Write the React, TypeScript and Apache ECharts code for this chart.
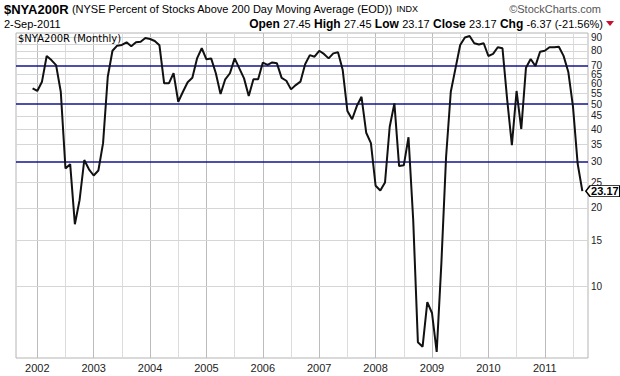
import React, { useEffect, useRef } from "react";
import * as echarts from "echarts";

// Monthly closes of $NYA200R, first point = Dec 2001 (month index -1 relative to Jan 2002)
const startMonth = -1;
const v2001 = [57.4];
const v2002 = [56.1, 60.9, 76.4, 73.7, 70.5, 55.7, 28.3, 29.4, 17.3, 21.4, 30.5, 28.1];
const v2003 = [26.6, 27.8, 35.4, 63.6, 80.0, 83.7, 84.2, 86.2, 83.3, 86.2, 86.7, 89.5];
const v2004 = [88.8, 87.2, 84.0, 60.0, 60.0, 65.6, 51.0, 55.7, 60.6, 63.0, 74.8, 81.8];
const v2005 = [74.2, 74.8, 65.6, 54.6, 62.2, 65.6, 74.8, 68.5, 62.7, 53.7, 62.2, 62.2];
const v2006 = [72.1, 70.7, 72.2, 71.6, 63.0, 61.4, 56.9, 59.1, 60.9, 71.0, 77.0, 75.9];
const v2007 = [80.0, 77.8, 74.8, 78.2, 78.9, 67.5, 47.0, 43.7, 49.1, 53.3, 38.8, 35.4];
const v2008 = [24.3, 23.3, 25.0, 40.9, 50.3, 28.9, 29.1, 37.3, 18.0, 6.1, 5.87, 8.7];
const v2009 = [7.9, 5.6, 12.3, 31.4, 55.7, 68.5, 84.2, 90.0, 91.1, 85.5, 84.5, 85.5];
const v2010 = [76.4, 77.8, 82.5, 81.8, 52.0, 34.8, 56.1, 40.1, 68.9, 74.4, 69.9, 79.3];
const v2011 = [80.0, 82.5, 82.5, 82.9, 76.5, 66.5, 49.0, 29.5, 23.17];

const values = [
  ...v2001, ...v2002, ...v2003, ...v2004, ...v2005, ...v2006,
  ...v2007, ...v2008, ...v2009, ...v2010, ...v2011,
];

const yearLabels = ["2002", "2003", "2004", "2005", "2006", "2007", "2008", "2009", "2010", "2011"];
const yearMonths = [0, 12, 24, 36, 48, 60, 72, 84, 96, 108];
const gridMonths = [0, 6, 12, 18, 24, 30, 36, 42, 48, 54, 60, 66, 72, 78, 84, 90, 96, 102, 108, 114];

const gridLevels = [10, 15, 20, 25, 35, 40, 45, 55, 60, 65, 75, 80, 85, 90];
const labeledLevels = [10, 15, 20, 25, 30, 35, 40, 45, 50, 55, 60, 65, 70, 80, 90];
const signalLevels = [30, 50, 70];

const FONT = '"Liberation Sans", Arial, sans-serif';

export default function App() {
  const ref = useRef<HTMLDivElement>(null);

  useEffect(() => {
    const chart = echarts.init(ref.current!, null, { renderer: "svg" });
    const data = values.map((v, i) => [startMonth + i, v]);
    const lastIdx = startMonth + values.length - 1;
    const lastVal = values[values.length - 1];

    const markLineData: any[] = [
      ...gridLevels.map((v) => ({
        yAxis: v,
        lineStyle: { color: "#d6d6d6", width: 1, type: "solid" },
        label: { show: labeledLevels.includes(v) },
      })),
      ...signalLevels.map((v) => ({
        yAxis: v,
        lineStyle: { color: "#14148c", width: 1.5, type: "solid" },
        label: { show: true },
      })),
    ];

    chart.setOption({
      animation: false,
      backgroundColor: "#ffffff",
      textStyle: { fontFamily: FONT },
      grid: {
        left: 16,
        right: 32,
        top: 33,
        bottom: 18,
        show: true,
        borderColor: "#b4b4b4",
        borderWidth: 1,
        backgroundColor: "#ffffff",
      },
      xAxis: {
        type: "value",
        min: -4.53,
        max: 117.2,
        axisLine: { show: false },
        axisTick: { show: false, customValues: gridMonths },
        axisLabel: {
          customValues: yearMonths,
          formatter: (v: number) => yearLabels[Math.round(v / 12)] ?? "",
          fontSize: 11,
          color: "#222",
          margin: 4,
          fontFamily: FONT,
        },
        splitLine: { show: true, lineStyle: { color: ["#bcbcbc", "#dcdcdc"], width: 1 } },
      },
      yAxis: {
        type: "log",
        logBase: 10,
        min: 5.31,
        max: 93.6,
        position: "right",
        axisLine: { show: false },
        axisTick: { show: false },
        axisLabel: { show: false },
        splitLine: { show: false },
        minorTick: { show: false },
        minorSplitLine: { show: false },
      },
      series: [
        {
          type: "line",
          data,
          z: 3,
          symbol: "none",
          lineStyle: { color: "#111111", width: 2 },
          markLine: {
            z: 1,
            silent: true,
            symbol: ["none", "none"],
            label: {
              position: "end",
              distance: 3,
              formatter: (p: any) => String(p.value),
              fontSize: 10,
              color: "#222",
              fontFamily: FONT,
            },
            data: markLineData,
          },
          markPoint: {
            silent: true,
            symbol: "path://M0,5L5,0L40,0L40,10L5,10Z",
            symbolSize: [34, 11],
            symbolKeepAspect: false,
            symbolOffset: [20.5, 0],
            itemStyle: { color: "#ffffff", borderColor: "#000000", borderWidth: 1 },
            label: {
              show: true,
              position: "inside",
              offset: [2, 0],
              formatter: () => lastVal.toFixed(2),
              fontWeight: "bold",
              fontSize: 11,
              color: "#000",
              fontFamily: FONT,
            },
            data: [{ coord: [lastIdx, lastVal], value: lastVal }],
          },
        },
      ],
      graphic: [
        {
          type: "text",
          x: 4,
          y: 9,
          style: {
            text:
              "{a|$NYA200R} {b|(NYSE Percent of Stocks Above 200 Day Moving Average (EOD))} {c|INDX}",
            verticalAlign: "middle",
            align: "left",
            rich: {
              a: { fontSize: 13, fontWeight: "bold", fontFamily: FONT, fill: "#000" },
              b: { fontSize: 11, fontFamily: FONT, fill: "#000" },
              c: { fontSize: 9, fontFamily: FONT, fill: "#000" },
            },
          },
        },
        {
          type: "text",
          x: 601,
          y: 9,
          style: {
            text: "©StockCharts.com",
            font: `11px ${FONT}`,
            fill: "#555",
            align: "right",
            verticalAlign: "middle",
          },
        },
        {
          type: "text",
          x: 4,
          y: 24,
          style: {
            text: "2-Sep-2011",
            font: `11px ${FONT}`,
            fill: "#000",
            align: "left",
            verticalAlign: "middle",
          },
        },
        {
          type: "text",
          x: 603,
          y: 24,
          style: {
            text:
              "{l|Open} {v|27.45} {l|High} {v|27.45} {l|Low} {v|23.17} {l|Close} {v|23.17} {l|Chg} {v|-6.37 (-21.56%)}",
            align: "right",
            verticalAlign: "middle",
            rich: {
              l: { fontSize: 12, fontWeight: "bold", fontFamily: FONT, fill: "#000" },
              v: { fontSize: 11, fontFamily: FONT, fill: "#000" },
            },
          },
        },
        {
          type: "polygon",
          shape: { points: [[606, 21], [614, 21], [610, 26]] },
          style: { fill: "#c8102e" },
        },
        {
          type: "text",
          x: 18,
          y: 38,
          z: 10,
          style: {
            text: "$NYA200R (Monthly)",
            font: '10px "DejaVu Sans", Verdana, sans-serif',
            fill: "#000",
            align: "left",
            verticalAlign: "middle",
          },
        },
      ],
    });
    return () => chart.dispose();
  }, []);

  return (
    <div
      ref={ref}
      style={{ position: "fixed", left: 0, top: 0, width: 620, height: 376, background: "#fff" }}
    />
  );
}
